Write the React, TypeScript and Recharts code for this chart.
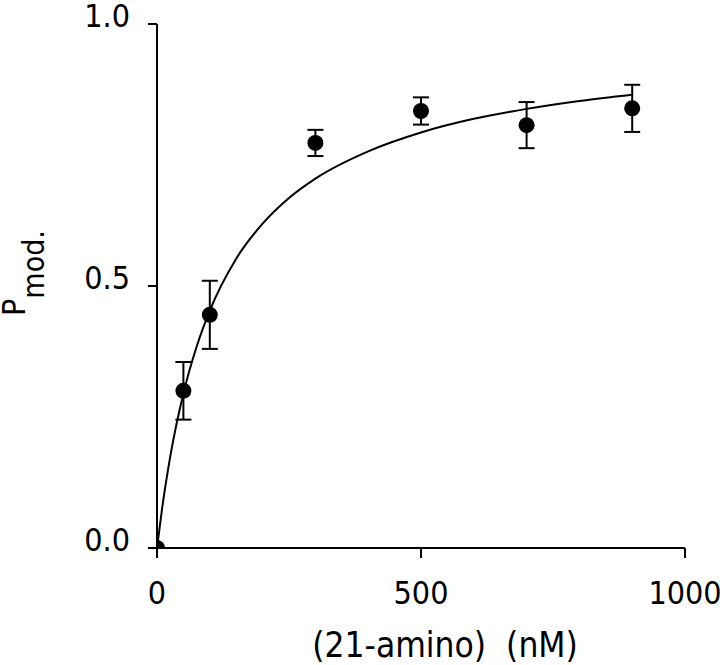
import React from "react";
import {
  ComposedChart,
  Scatter,
  Line,
  XAxis,
  YAxis,
  ErrorBar,
} from "recharts";

// measured points (concentration in nM, P mod., error)
const conc = [0, 50, 100, 300, 500, 700, 900];
const pMod = [0, 0.3, 0.445, 0.773, 0.834, 0.807, 0.839];
const pErr = [0, 0.055, 0.065, 0.025, 0.026, 0.044, 0.045];

// fitted curve
const fitX = [0, 10, 25, 50, 75, 100, 150, 200, 250, 300, 400, 500, 600, 700, 800, 900];
const fitY = [0, 0.078, 0.174, 0.295, 0.384, 0.453, 0.552, 0.619, 0.668, 0.705, 0.757, 0.793, 0.819, 0.838, 0.853, 0.865];

const xTicks = [0, 500, 1000];
const yTicks = [0, 0.5, 1];

const FONT = "'Liberation Sans Narrow', 'DejaVu Sans Condensed', 'Liberation Sans', sans-serif";

const points = conc.map((x, i) => ({ x, y: pMod[i], err: pErr[i] }));
const fit = fitX.map((x, i) => ({ x, y: fitY[i] }));

function YTick({ x, y, payload }: any) {
  return (
    <text
      x={x}
      y={y - 8}
      textAnchor="end"
      dominantBaseline="central"
      fontSize={32}
      fontFamily={FONT}
      fill="#000"
    >
      {Number(payload.value).toFixed(1)}
    </text>
  );
}

function XTick({ x, y, payload }: any) {
  return (
    <text x={x} y={y} dy="0.71em" textAnchor="middle" fontSize={32} fontFamily={FONT} fill="#000">
      {payload.value}
    </text>
  );
}

export default function App() {
  return (
    <div style={{ position: "absolute", left: 0, top: 0, background: "#fff" }}>
      <ComposedChart
        width={720}
        height={665}
        margin={{ top: 24, right: 35, bottom: 0, left: 0 }}
      >
        <XAxis
          dataKey="x"
          type="number"
          domain={[0, 1000]}
          ticks={xTicks}
          allowDataOverflow
          height={117}
          tickSize={10}
          tickMargin={23}
          stroke="#000"
          strokeWidth={2}
          tick={<XTick />}
          label={{
            content: ({ viewBox }: any) => (
              <text
                x={viewBox.x + viewBox.width / 2 + 24}
                y={645}
                textAnchor="middle"
                dominantBaseline="central"
                fontSize={35}
                fontFamily={FONT}
                fill="#000"
                style={{ whiteSpace: "pre" }}
              >
                (21-amino)  (nM)
              </text>
            ),
          }}
        />
        <YAxis
          dataKey="y"
          type="number"
          domain={[0, 1]}
          ticks={yTicks}
          allowDataOverflow
          width={157}
          tickSize={9}
          tickMargin={18}
          stroke="#000"
          strokeWidth={2}
          tick={<YTick />}
          label={{
            content: () => (
              <text
                transform="translate(25, 316) rotate(-90)"
                fontFamily={FONT}
                fill="#000"
              >
                <tspan fontSize={32}>P</tspan>
                <tspan fontSize={30} dy={19}>mod.</tspan>
              </text>
            ),
          }}
        />
        <Line
          data={fit}
          dataKey="y"
          type="monotone"
          stroke="#000"
          strokeWidth={2}
          dot={false}
          activeDot={false}
          isAnimationActive={false}
        />
        <Scatter data={points} dataKey="y" fill="#000" isAnimationActive={false} shape={(p: any) => <circle cx={p.cx} cy={p.cy} r={8} fill="#000" />}>
          <ErrorBar dataKey="err" direction="y" width={8} stroke="#000" strokeWidth={2} />
        </Scatter>
      </ComposedChart>
    </div>
  );
}
